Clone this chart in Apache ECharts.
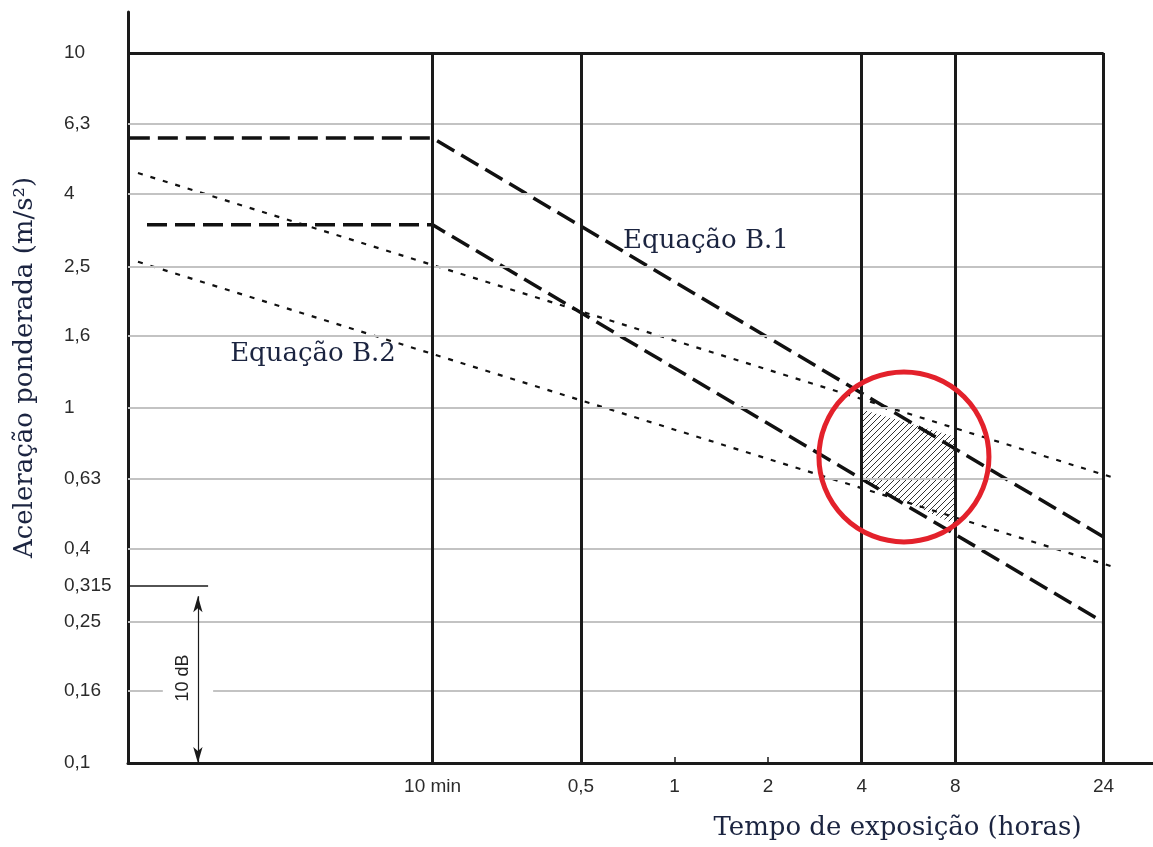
<!DOCTYPE html>
<html>
<head>
<meta charset="utf-8">
<script src="https://cdn.jsdelivr.net/npm/echarts/dist/echarts.min.js"></script>
<style>html,body{margin:0;padding:0;background:#fff;}#chart{width:1153px;height:847px;}</style>
</head>
<body>
<div id="chart"></div>
<script>
// ---- axis ticks (hours / m/s²) ----
const xTickValues = [1/6, 0.5, 1, 2, 4, 8, 24];
const xTickLabels = ['10 min', '0,5', '1', '2', '4', '8', '24'];
const yTickValues = [10, 6.3, 4, 2.5, 1.6, 1, 0.63, 0.4, 0.315, 0.25, 0.16, 0.1];
const yTickLabels = ['10', '6,3', '4', '2,5', '1,6', '1', '0,63', '0,4', '0,315', '0,25', '0,16', '0,1'];

// ---- frame ----
const yGridValues = [6.3, 4, 2.5, 1.6, 1, 0.63, 0.4, 0.25];
const xFrameValues = [1/6, 0.5, 4, 8, 24];   // heavy vertical lines
const topValue = 10;
const xStart = 0.01746;                      // left edge of the diagram
const xEnd = 24;
const dbRef = 0.315;                          // 10 dB reference line
const dbLineEnd = 0.0316;
const dbArrowX = 0.0293;
const dbArrowTop = 0.295;
const dbArrowBottom = 0.1;
const dbLabelPos = [0.0262, 0.1735];
const grid016 = 0.16;
const grid016Gap = [0.0226, 0.0328];

// ---- Equação B.1 (dashed) ----
const b1UpperT = [0.0177, 1/6, 24];
const b1UpperV = [5.76, 5.76, 0.433];
const b1LowerT = [0.0201, 1/6, 24];
const b1LowerV = [3.28, 3.28, 0.249];

// ---- Equação B.2 (dotted) ----
const b2UpperT = [0.0188, 26];
const b2UpperV = [4.59, 0.635];
const b2LowerT = [0.0188, 26];
const b2LowerV = [2.58, 0.356];

// ---- caution zone (hatched) ----
const hatchT = [4, 8, 8, 4];
const hatchV = [0.99, 0.83, 0.47, 0.62];

// ---- annotations ----
const eqLabels = ['Equação B.1', 'Equação B.2'];
const eqLabelT = [0.683, 0.0372];
const eqLabelV = [2.95, 1.42];
const circleCenter = [5.47, 0.728];

const zip = (a, b) => a.map((v, i) => [v, b[i]]);
const findLabel = (vals, labels, v) => {
  for (let i = 0; i < vals.length; i++) if (Math.abs(vals[i] - v) / vals[i] < 1e-4) return labels[i];
  return '';
};

// hatch pattern
const pat = document.createElement('canvas');
pat.width = 6; pat.height = 6;
const pc = pat.getContext('2d');
pc.strokeStyle = '#333'; pc.lineWidth = 1;
pc.beginPath();
pc.moveTo(-1, 7); pc.lineTo(7, -1);
pc.moveTo(-1, 1); pc.lineTo(1, -1);
pc.moveTo(5, 7); pc.lineTo(7, 5);
pc.stroke();

const black = '#1a1a1a';
const titleColor = '#1b2440';
const gridStyle = {color: '#c3c3c3', width: 2, type: 'solid'};
const heavy = {color: black, width: 3, type: 'solid'};

const frameLines = [];
yGridValues.forEach(v => frameLines.push([{coord: [xStart, v], lineStyle: gridStyle}, {coord: [xEnd, v]}]));
frameLines.push([{coord: [xStart, grid016], lineStyle: gridStyle}, {coord: [grid016Gap[0], grid016]}]);
frameLines.push([{coord: [grid016Gap[1], grid016], lineStyle: gridStyle}, {coord: [xEnd, grid016]}]);
frameLines.push([{coord: [xStart, dbRef], lineStyle: {color: black, width: 1.5, type: 'solid'}}, {coord: [dbLineEnd, dbRef]}]);
frameLines.push([{coord: [xStart, topValue], lineStyle: heavy}, {coord: [xEnd, topValue]}]);
xFrameValues.forEach(t => frameLines.push([{coord: [t, 0.1], lineStyle: heavy}, {coord: [t, topValue]}]));

const chart = echarts.init(document.getElementById('chart'));
chart.setOption({
  animation: false,
  backgroundColor: '#fff',
  grid: {left: 128, right: 0, top: 12, bottom: 84, containLabel: false},
  xAxis: {
    type: 'log', logBase: 10, min: xStart, max: 34.6,
    name: 'Tempo de exposição (horas)',
    nameLocation: 'middle', nameGap: 52,
    nameTextStyle: {fontFamily: 'DejaVu Serif', fontSize: 26, color: titleColor, padding: [0, 0, 0, 514]},
    axisLine: {show: true, lineStyle: {color: black, width: 3}},
    axisTick: {show: true, inside: true, length: 6, customValues: xTickValues, lineStyle: {color: black, width: 1.5}},
    axisLabel: {
      show: true, customValues: xTickValues, margin: 14,
      fontFamily: 'Liberation Sans, Arial, sans-serif', fontSize: 19, color: '#2b2b2b',
      formatter: v => findLabel(xTickValues, xTickLabels, v)
    },
    splitLine: {show: false}, minorTick: {show: false}, minorSplitLine: {show: false}
  },
  yAxis: {
    type: 'log', logBase: 10, min: 0.1, max: 13.04,
    name: 'Aceleração ponderada (m/s²)',
    nameLocation: 'middle', nameGap: 90, nameRotate: 90,
    nameTextStyle: {fontFamily: 'DejaVu Serif', fontSize: 26, color: titleColor, padding: [0, 0, 0, 40]},
    axisLine: {show: true, lineStyle: {color: black, width: 3}},
    axisTick: {show: false},
    axisLabel: {
      show: true, customValues: yTickValues, margin: 64, align: 'left',
      fontFamily: 'Liberation Sans, Arial, sans-serif', fontSize: 19, color: '#2b2b2b',
      formatter: v => findLabel(yTickValues, yTickLabels, v)
    },
    splitLine: {show: false}, minorTick: {show: false}, minorSplitLine: {show: false}
  },
  series: [
    {
      name: 'zona', type: 'custom', z: 1,
      data: zip(hatchT, hatchV),
      renderItem: function (params, api) {
        if (params.dataIndex !== 0) return null;
        const pts = hatchT.map((t, i) => api.coord([t, hatchV[i]]));
        return {
          type: 'polygon',
          shape: {points: pts},
          style: {fill: {type: 'pattern', image: pat, repeat: 'repeat'}, stroke: null}
        };
      }
    },
    {
      name: 'frame', type: 'line', data: [], z: 2,
      markLine: {silent: true, symbol: 'none', label: {show: false}, animation: false, data: frameLines}
    },
    {
      name: 'dB', type: 'line', data: [], z: 3,
      markLine: {
        silent: true, symbol: ['arrow', 'arrow'], symbolSize: [7, 16], label: {show: false}, animation: false,
        lineStyle: {color: black, width: 1.2, type: 'solid'},
        data: [[{coord: [dbArrowX, dbArrowTop]}, {coord: [dbArrowX, dbArrowBottom]}]]
      }
    },
    {
      name: 'B.1 sup', type: 'line', data: zip(b1UpperT, b1UpperV), symbol: 'none', z: 4,
      lineStyle: {color: '#111', width: 3.5, type: [20, 8]}
    },
    {
      name: 'B.1 inf', type: 'line', data: zip(b1LowerT, b1LowerV), symbol: 'none', z: 4,
      lineStyle: {color: '#111', width: 3.5, type: [20, 8]}
    },
    {
      name: 'B.2 sup', type: 'line', data: zip(b2UpperT, b2UpperV), symbol: 'none', z: 4,
      lineStyle: {color: '#111', width: 2.2, type: [5, 8]}
    },
    {
      name: 'B.2 inf', type: 'line', data: zip(b2LowerT, b2LowerV), symbol: 'none', z: 4,
      lineStyle: {color: '#111', width: 2.2, type: [5, 8]}
    },
    {
      name: 'labels', type: 'scatter', symbolSize: 0, z: 5,
      itemStyle: {opacity: 1},
      data: eqLabelT.map((t, i) => ({value: [t, eqLabelV[i]], name: eqLabels[i]})),
      label: {show: true, position: 'right', distance: 0, formatter: p => p.name,
        fontFamily: 'DejaVu Serif', fontSize: 26, color: titleColor, opacity: 1}
    },
    {
      name: '10dB', type: 'scatter', symbolSize: 0, z: 5,
      itemStyle: {opacity: 1},
      data: [{value: dbLabelPos, name: '10 dB'}],
      label: {show: true, position: 'inside', rotate: 90, formatter: p => p.name,
        fontFamily: 'Liberation Sans, Arial, sans-serif', fontSize: 18, color: '#222', opacity: 1}
    },
    {
      name: 'circle', type: 'scatter', symbol: 'circle', symbolSize: 170, z: 6,
      data: [circleCenter],
      itemStyle: {color: 'rgba(0,0,0,0)', borderColor: '#e3212b', borderWidth: 5, opacity: 1}
    }
  ]
});
</script>
</body>
</html>
